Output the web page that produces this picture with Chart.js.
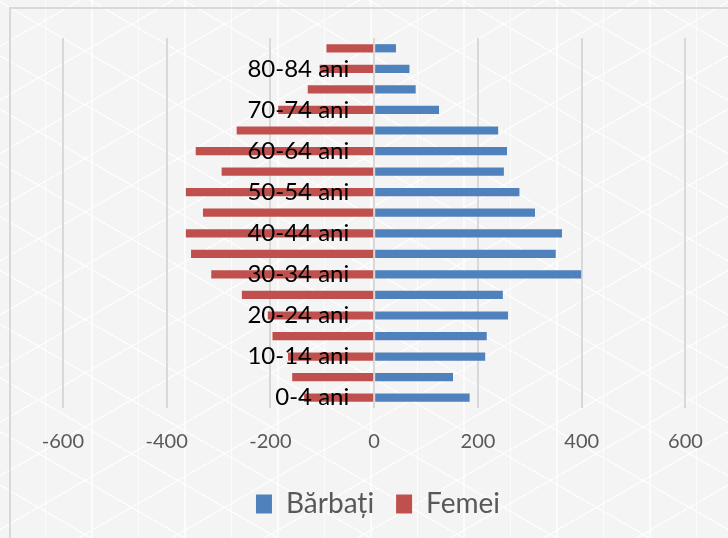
<!DOCTYPE html>
<html>
<head>
<meta charset="utf-8">
<script src="https://cdn.jsdelivr.net/npm/chart.js@4.4.1/dist/chart.umd.min.js"></script>
<style>
    html, body {
        margin: 0;
        padding: 0;
        width: 728px;
        height: 538px;
        overflow: hidden;
    }
    body {
        position: relative;
        background-color: #f4f4f4;
        background-image:
            repeating-linear-gradient(90deg, transparent 0 45px, rgba(255, 255, 255, 0.7) 45px 46.5px),
            repeating-linear-gradient(30deg, transparent 0 45px, rgba(255, 255, 255, 0.7) 45px 46.5px),
            repeating-linear-gradient(330deg, transparent 0 45px, rgba(255, 255, 255, 0.7) 45px 46.5px);
    }
    .frame {
        position: absolute;
        left: 9px;
        top: 7px;
        width: 740px;
        height: 560px;
        border-left: 2px solid #d9d9d9;
        border-top: 2px solid #d9d9d9;
    }
    .chart-box {
        position: absolute;
        left: 0;
        top: 0;
        width: 728px;
        height: 538px;
    }
</style>
</head>
<body>
<div class="frame"></div>
<div class="chart-box"><canvas id="pyramidChart"></canvas></div>
<script>
// Age groups, bottom to top
const ageGroups = ['0-4 ani', '5-9 ani', '10-14 ani', '15-19 ani', '20-24 ani', '25-29 ani',
    '30-34 ani', '35-39 ani', '40-44 ani', '45-49 ani', '50-54 ani', '55-59 ani',
    '60-64 ani', '65-69 ani', '70-74 ani', '75-79 ani', '80-84 ani', '85+ ani'];

// Men (right side)
const barbati = [184, 152, 214, 217, 258, 248, 399, 350, 362, 310, 280, 250, 256, 239, 125, 80, 68, 42];

// Women (left side, negative)
const femei = [-135, -158, -166, -196, -205, -255, -314, -353, -363, -330, -363, -294, -344, -265, -185, -128, -105, -92];

// x axis tick values
const xTicks = [-600, -400, -200, 0, 200, 400, 600];

// legend sits a little right of the canvas centre
const legendShift = {
    id: 'legendShift',
    afterLayout(chart) {
        chart.legend.left = 28;
        chart.legend.right = 728;
    }
};

const ctx = document.getElementById('pyramidChart').getContext('2d');
const pyramidChart = new Chart(ctx, {
    type: 'bar',
    data: {
        labels: ageGroups,
        datasets: [{
            label: 'Bărbați',
            data: barbati,
            backgroundColor: '#4F81BD',
            barPercentage: 0.4,
            categoryPercentage: 1
        }, {
            label: 'Femei',
            data: femei,
            backgroundColor: '#C0504D',
            barPercentage: 0.4,
            categoryPercentage: 1
        }]
    },
    plugins: [legendShift],
    options: {
        indexAxis: 'y',
        responsive: true,
        maintainAspectRatio: false,
        animation: false,
        layout: {
            padding: { top: 38, left: 11, right: 0, bottom: 10 }
        },
        plugins: {
            tooltip: { enabled: false },
            legend: {
                position: 'bottom',
                labels: {
                    color: '#595959',
                    font: { family: 'Lato', size: 28 },
                    boxWidth: 16,
                    boxHeight: 19,
                    padding: 22
                }
            }
        },
        scales: {
            x: {
                stacked: true,
                min: -700,
                max: 682,
                afterBuildTicks: scale => {
                    scale.ticks = xTicks.map(v => ({ value: v }));
                },
                afterFit: scale => {
                    scale.height = 60;
                },
                grid: {
                    color: '#d9d9d9',
                    lineWidth: 2,
                    drawTicks: false
                },
                border: { display: false },
                ticks: {
                    color: '#595959',
                    font: { family: 'Lato', size: 20 },
                    padding: 22
                }
            },
            y: {
                stacked: true,
                reverse: true,
                position: { x: -48 },
                grid: { display: false },
                border: { display: false },
                ticks: {
                    z: 1,
                    autoSkip: false,
                    color: '#000000',
                    font: { family: 'Lato', size: 24 },
                    callback: function (value, index) {
                        return index % 2 === 0 ? this.getLabelForValue(value) : '';
                    }
                }
            }
        }
    }
});
</script>
</body>
</html>
